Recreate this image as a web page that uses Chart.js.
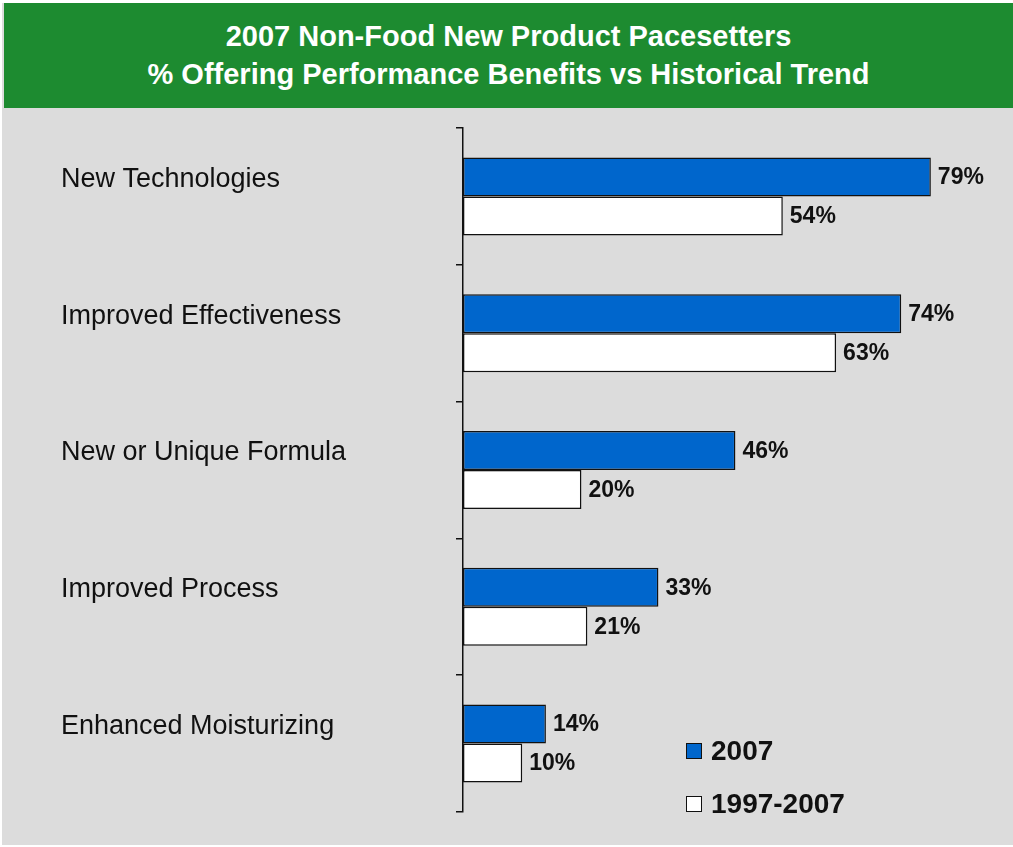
<!DOCTYPE html>
<html>
<head>
<meta charset="utf-8">
<title>2007 Non-Food New Product Pacesetters</title>
<script src="https://cdn.jsdelivr.net/npm/chart.js@4.4.1/dist/chart.umd.min.js"></script>
<style>
  body { margin: 0; background: #fff; font-family: "Liberation Sans", Arial, sans-serif; }
  #panel { position: absolute; left: 2px; top: 3px; width: 1011px; height: 842px; background: #dcdcdc; }
  #header {
    position: absolute; left: 4px; top: 3px; width: 1009px; height: 105px;
    background: #1d8b30; color: #fff; font-weight: bold; font-size: 29px;
    line-height: 38px; text-align: center; padding-top: 14px; box-sizing: border-box;
  }
  #wrap { position: absolute; left: 0; top: 0; width: 1013px; height: 847px; }
  #legend { position: absolute; left: 686px; top: 735px; white-space: nowrap; }
  .item { position: relative; height: 53px; width: 200px; font-weight: bold; font-size: 28px; color: #111; }
  .item span.box { position: absolute; left: 0; top: 8px; width: 14px; height: 14px; border: 1px solid #111; }
  .item span.txt { position: absolute; left: 25px; top: 0; line-height: 32px; }
</style>
</head>
<body>
<div id="panel"></div>
<div id="header">2007 Non-Food New Product Pacesetters<br>% Offering Performance Benefits vs Historical Trend</div>
<div id="wrap"><canvas id="chart"></canvas></div>
<div id="legend"></div>

<script>
// données
const categories = ['New Technologies', 'Improved Effectiveness', 'New or Unique Formula', 'Improved Process', 'Enhanced Moisturizing'];
const share2007 = [79, 74, 46, 33, 14];
const shareTrend = [54, 63, 20, 21, 10];
const seriesNames = ['2007', '1997-2007'];

// étiquettes de valeur à droite des barres
const valueLabels = {
  id: 'valueLabels',
  afterDatasetsDraw(chart) {
    const ctx = chart.ctx;
    ctx.save();
    ctx.font = 'bold 23px "Liberation Sans", Arial, sans-serif';
    ctx.fillStyle = '#111';
    ctx.textAlign = 'left';
    ctx.textBaseline = 'middle';
    chart.data.datasets.forEach((ds, i) => {
      chart.getDatasetMeta(i).data.forEach((bar, j) => {
        ctx.fillText(ds.data[j] + '%', bar.x + 7, bar.y + 1);
      });
    });
    ctx.restore();
  }
};

const ctx = document.getElementById('chart').getContext('2d');
const chart = new Chart(ctx, {
  type: 'bar',
  data: {
    labels: categories,
    datasets: [
      { label: seriesNames[0], data: share2007, backgroundColor: '#0066cc' },
      { label: seriesNames[1], data: shareTrend, backgroundColor: '#ffffff' }
    ]
  },
  options: {
    indexAxis: 'y',
    responsive: true,
    maintainAspectRatio: false,
    animation: false,
    layout: { padding: { left: 61, top: 128, bottom: 35, right: 17 } },
    datasets: {
      bar: {
        borderColor: '#111',
        borderWidth: 1.5,
        borderSkipped: false,
        categoryPercentage: 0.57,
        barPercentage: 1
      }
    },
    scales: {
      x: { display: false, min: 0, max: 90 },
      y: {
        afterFit(scale) { scale.width = 402; },
        border: { display: true, color: '#111', width: 1.5 },
        grid: { drawOnChartArea: false, drawTicks: true, tickLength: 7, color: '#111', lineWidth: 1.5 },
        ticks: {
          crossAlign: 'far',
          labelOffset: -17,
          color: '#111',
          font: { family: '"Liberation Sans", Arial, sans-serif', size: 27 }
        }
      }
    },
    plugins: {
      legend: { display: false },
      tooltip: { enabled: false }
    }
  },
  plugins: [valueLabels]
});

// légende
const legend = document.getElementById('legend');
chart.data.datasets.forEach(ds => {
  const item = document.createElement('div');
  item.className = 'item';
  item.innerHTML = '<span class="box" style="background:' + ds.backgroundColor + '"></span><span class="txt">' + ds.label + '</span>';
  legend.appendChild(item);
});
</script>
</body>
</html>
